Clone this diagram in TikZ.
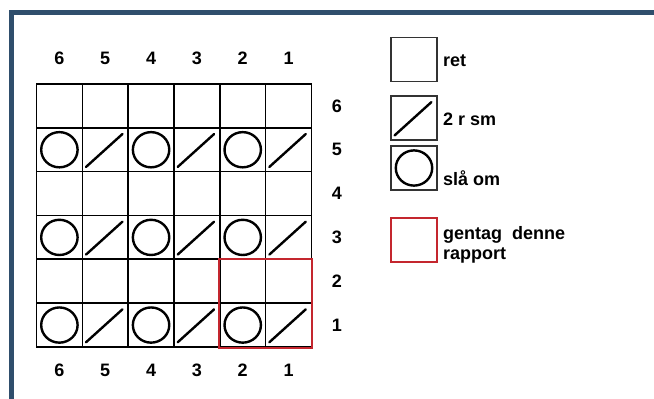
\documentclass[tikz,border=0pt]{standalone}
\usepackage{fontspec}
\setmainfont{Liberation Sans}
\usepackage{xcolor}
\usepackage{tikz}
\usetikzlibrary{positioning}

\definecolor{frameblue}{HTML}{2F4E6C}
\definecolor{repeatred}{HTML}{C4262E}

\begin{document}
\begin{tikzpicture}[
  x=1pt, y=-1pt,
  font=\fontsize{18}{20}\selectfont\bfseries,
  % Node styles
  cell/.style={rectangle, draw=black, line width=1.6pt, minimum width=45.8pt, minimum height=43.8pt, inner sep=0pt},
  legendbox/.style={rectangle, draw=black!80, line width=1.8pt, minimum width=46pt, minimum height=44pt, inner sep=0pt},
  num/.style={inner sep=0pt, align=center},
  legtext/.style={inner sep=0pt, align=left},
  yarnover/.style={draw=black, line width=2.4pt},
  decrease/.style={draw=black, line width=2.4pt, line cap=round},
  rapport/.style={draw=repeatred, line width=2pt},
  frame/.style={draw=frameblue, line width=5pt}
]

  \useasboundingbox (0,0) rectangle (654,399);

  % ============================================
  % Frame
  % ============================================
  \draw[frame] (11.5,399) -- (11.5,12.5) -- (654,12.5);

  % ============================================
  % Chart: 6 stitches x 6 rows
  % ============================================
  \foreach \r in {1,...,6} {
    \foreach \k in {1,...,6} {
      \node[cell] (c\r-\k) at ({59.4+45.83*(6-\k)}, {105.9+43.83*(6-\r)}) {};
    }
  }

  % Stitch numbers (top and bottom) and row numbers (right)
  \foreach \k in {1,...,6} {
    \node[num] (top\k) at ({59.4+45.83*(6-\k)}, 58) {\k};
    \node[num] (bot\k) at ({59.4+45.83*(6-\k)}, 370) {\k};
  }
  \foreach \r in {1,...,6} {
    \node[num] (side\r) at (337, {105.9+43.83*(6-\r)}) {\r};
  }

  % Pattern rows: yarn over + 2 together
  \foreach \r in {1,3,5} {
    \foreach \k in {2,4,6} {
      \draw[yarnover] (c\r-\k) ellipse[x radius=18.2pt, y radius=17.6pt];
    }
    \foreach \k in {1,3,5} {
      \draw[decrease] ([shift={(4.5,-5.5)}]c\r-\k.south west) -- ([shift={(-6.5,7)}]c\r-\k.north east);
    }
  }

  % Repeat box
  \draw[rapport] (c2-2.north west) rectangle (c1-1.south east);

  % ============================================
  % Legend
  % ============================================
  \node[legendbox] (lg-ret) at (414,59.5) {};
  \node[legtext, right=5pt of lg-ret, yshift=-1pt] (txt-ret) {ret};

  \node[legendbox] (lg-dec) at (414,118) {};
  \draw[decrease] ([shift={(4.5,-5.5)}]lg-dec.south west) -- ([shift={(-6.5,7)}]lg-dec.north east);
  \node[legtext, right=5pt of lg-dec, yshift=-1pt] (txt-dec) {2 r sm};

  \node[legendbox] (lg-yo) at (414,168) {};
  \draw[yarnover] (lg-yo) ellipse[x radius=18.2pt, y radius=17.6pt];
  \node[legtext, right=5pt of lg-yo, yshift=-10pt] (txt-yo) {slå om};

  \node[legendbox, draw=repeatred] (lg-rep) at (414,240) {};
  \node[legtext, right=5pt of lg-rep, yshift=-5pt] (txt-rep) {gentag\ \ denne\\rapport};

\end{tikzpicture}
\end{document}
